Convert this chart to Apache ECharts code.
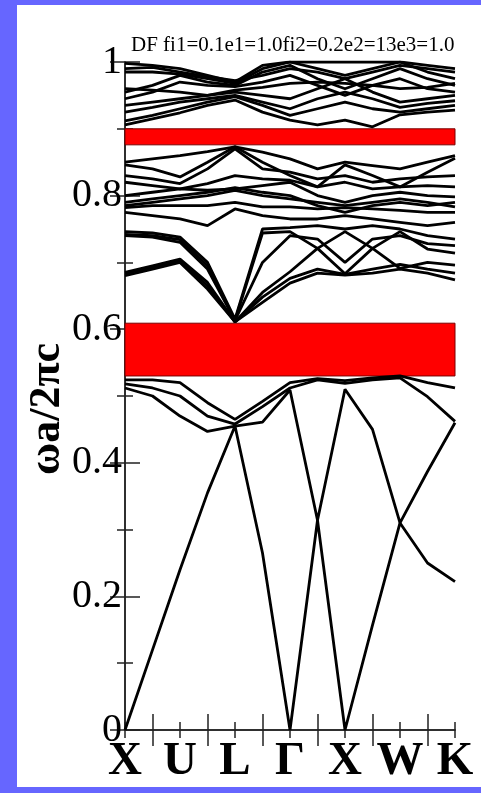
<!DOCTYPE html>
<html>
<head>
<meta charset="utf-8">
<script src="https://cdn.jsdelivr.net/npm/echarts@6/dist/echarts.min.js"></script>
<style>
html,body{margin:0;padding:0;background:#6666ff;}
#c{width:481px;height:793px;}
</style>
</head>
<body>
<div id="c"></div>
<script>
// k-path positions (equal segments) and their labels
const kPoints = [0,0.5,1,1.5,2,2.5,3,3.5,4,4.5,5,5.5,6];
const kLabels = ['X','U','L','Γ','X','W','K'];
const yTicks = [0,0.2,0.4,0.6,0.8,1];
const titleText = 'DF fi1=0.1e1=1.0fi2=0.2e2=13e3=1.0';
const yName = 'ωa/2πc';
// band gaps [from, to]
const gapLow = [0.530, 0.609];
const gapHigh = [0.876, 0.900];

// bands (normalized frequency at each k point)
const band01 = [0.000,0.120,0.240,0.355,0.455,0.265,0.000,0.314,0.000,0.157,0.310,0.250,0.222];
const band02 = [0.512,0.500,0.470,0.447,0.455,0.461,0.509,0.314,0.510,0.450,0.310,0.387,0.460];
const band03 = [0.518,0.512,0.500,0.470,0.458,0.484,0.512,0.524,0.519,0.524,0.527,0.499,0.462];
const band04 = [0.524,0.524,0.520,0.490,0.465,0.492,0.520,0.526,0.523,0.527,0.530,0.520,0.512];
const band05 = [0.680,0.690,0.700,0.660,0.611,0.640,0.669,0.684,0.681,0.684,0.690,0.684,0.674];
const band06 = [0.685,0.695,0.705,0.670,0.611,0.655,0.686,0.721,0.683,0.721,0.691,0.700,0.696];
const band07 = [0.740,0.738,0.730,0.690,0.613,0.744,0.746,0.721,0.746,0.721,0.746,0.720,0.714];
const band08 = [0.746,0.744,0.738,0.700,0.615,0.750,0.752,0.755,0.750,0.755,0.750,0.740,0.735];
const band09 = [0.775,0.770,0.765,0.755,0.780,0.770,0.765,0.765,0.770,0.765,0.760,0.755,0.760];
const band10 = [0.782,0.785,0.785,0.785,0.790,0.783,0.783,0.780,0.782,0.780,0.778,0.775,0.775];
const band11 = [0.785,0.790,0.795,0.800,0.808,0.800,0.795,0.790,0.785,0.790,0.795,0.790,0.783];
const band12 = [0.800,0.805,0.810,0.808,0.810,0.815,0.820,0.800,0.790,0.800,0.805,0.800,0.798];
const band13 = [0.820,0.815,0.810,0.818,0.830,0.825,0.823,0.813,0.820,0.810,0.813,0.815,0.813];
const band14 = [0.846,0.840,0.828,0.850,0.873,0.850,0.830,0.813,0.846,0.830,0.813,0.835,0.856];
const band15 = [0.850,0.855,0.860,0.866,0.873,0.865,0.855,0.840,0.850,0.845,0.840,0.850,0.860];
const band16 = [0.906,0.915,0.924,0.935,0.943,0.925,0.913,0.906,0.913,0.903,0.921,0.925,0.928];
const band17 = [0.912,0.920,0.930,0.940,0.948,0.935,0.920,0.930,0.940,0.930,0.925,0.930,0.935];
const band18 = [0.935,0.940,0.945,0.950,0.955,0.950,0.945,0.960,0.975,0.955,0.940,0.945,0.950];
const band19 = [0.945,0.955,0.970,0.965,0.963,0.970,0.980,0.965,0.950,0.965,0.975,0.960,0.955];
const band20 = [0.955,0.965,0.980,0.970,0.965,0.985,0.995,0.975,0.960,0.975,0.990,0.975,0.965];
const band21 = [0.985,0.985,0.982,0.975,0.968,0.990,1.000,0.990,0.980,0.990,1.000,0.985,0.975];
const band22 = [0.998,0.995,0.990,0.980,0.970,0.995,1.000,1.000,1.000,1.000,1.000,0.995,0.990];
const band23 = [0.990,0.992,0.985,0.978,0.972,0.980,0.990,0.985,0.975,0.985,0.995,0.990,0.985];
const band24 = [0.960,0.958,0.955,0.950,0.958,0.962,0.968,0.970,0.968,0.965,0.960,0.962,0.968];
const band25 = [0.925,0.932,0.940,0.945,0.950,0.940,0.930,0.945,0.955,0.945,0.932,0.938,0.942];
const band26 = [0.742,0.740,0.734,0.695,0.613,0.700,0.740,0.735,0.700,0.735,0.740,0.728,0.725];
const band27 = [0.790,0.795,0.800,0.805,0.812,0.805,0.800,0.785,0.775,0.785,0.790,0.785,0.790];
const band28 = [0.830,0.825,0.818,0.840,0.870,0.840,0.835,0.825,0.830,0.820,0.825,0.828,0.830];
const band29 = [0.683,0.693,0.703,0.665,0.611,0.648,0.676,0.690,0.682,0.690,0.697,0.690,0.684];

const bands = [band01,band02,band03,band04,band05,band06,band07,band08,band09,band10,band11,
  band12,band13,band14,band15,band16,band17,band18,band19,band20,band21,band22,band23,
  band24,band25,band26,band27,band28,band29];

const chart = echarts.init(document.getElementById('c'), null, {renderer:'canvas'});
const serif = 'Liberation Serif, Times New Roman, serif';

const series = bands.map((b, idx) => ({
  type: 'line',
  data: kPoints.map((k, i) => [k, b[i]]),
  symbol: 'none',
  silent: true,
  z: 3,
  lineStyle: {color: '#000', width: 2.8},
  markArea: idx === 0 ? {
    silent: true,
    itemStyle: {color: '#ff0000', borderColor: '#7a0000', borderWidth: 1},
    data: [
      [{yAxis: gapLow[0]}, {yAxis: gapLow[1]}],
      [{yAxis: gapHigh[0]}, {yAxis: gapHigh[1]}]
    ]
  } : undefined
}));

const xCommon = {
  type: 'value', min: 0, max: 6, interval: 1,
  axisLine: {show: true, lineStyle: {color: '#222', width: 1.5}},
  axisTick: {show: true, inside: true, length: 8, lineStyle: {color: '#222', width: 1.5}},
  minorTick: {show: true, splitNumber: 2, length: 16, lineStyle: {color: '#222', width: 1.5}},
  splitLine: {show: false}
};
const yCommon = {
  type: 'value', min: 0, max: 1, interval: 0.2,
  axisLine: {show: true, lineStyle: {color: '#222', width: 1.5}},
  axisTick: {show: true, inside: true, length: 15, lineStyle: {color: '#222', width: 1.5}},
  minorTick: {show: true, splitNumber: 2, length: 8, lineStyle: {color: '#222', width: 1.5}},
  splitLine: {show: false}
};

chart.setOption({
  backgroundColor: '#6666ff',
  animation: false,
  title: {
    text: titleText, left: 126, top: 30,
    textStyle: {fontFamily: serif, fontSize: 21, fontWeight: 'normal', color: '#000'}
  },
  graphic: [
    {type: 'rect', z: -10, shape: {x: 17, y: 5, width: 470, height: 782}, style: {fill: '#ffffff'}},
    {type: 'text', z: 10, x: 48, y: 409, rotation: Math.PI / 2,
     style: {text: yName, fill: '#000', font: 'bold 44px ' + serif, textAlign: 'center', textVerticalAlign: 'middle'}}
  ],
  grid: {left: 125, top: 62, width: 330, height: 668, containLabel: false},
  xAxis: [
    Object.assign({}, xCommon, {
      position: 'bottom',
      axisLabel: {
        show: true, margin: 8, color: '#000', fontFamily: serif, fontSize: 47, fontWeight: 'bold',
        formatter: v => Number.isInteger(v) ? kLabels[v] : ''
      }
    }),
    Object.assign({}, xCommon, {position: 'top', axisLabel: {show: false}})
  ],
  yAxis: [
    Object.assign({}, yCommon, {
      position: 'left',
      axisLabel: {
        show: true, margin: 3, color: '#000', fontFamily: serif, fontSize: 40,
        formatter: v => (v === 0 ? '0' : (v === 1 ? '1' : v.toFixed(1)))
      }
    }),
    Object.assign({}, yCommon, {position: 'right', axisLabel: {show: false}})
  ],
  series: series
});
</script>
</body>
</html>
